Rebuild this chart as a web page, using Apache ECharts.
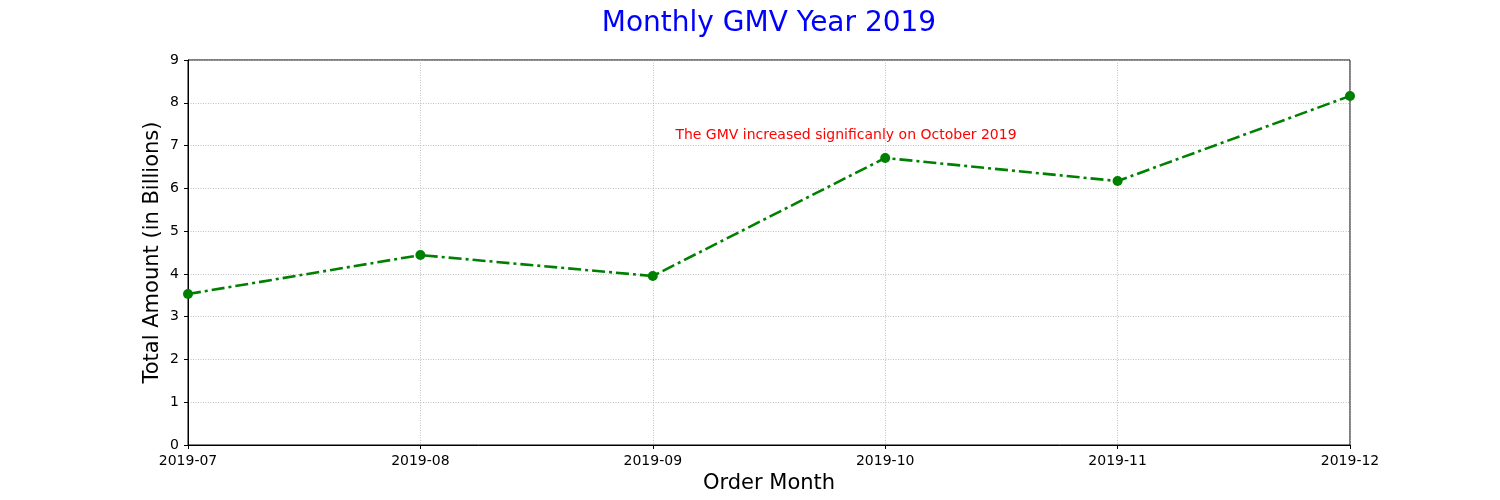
<!DOCTYPE html>
<html>
<head>
<meta charset="utf-8">
<script src="https://cdn.jsdelivr.net/npm/echarts@6/dist/echarts.min.js"></script>
<style>html,body{margin:0;padding:0;background:#fff}#c{width:1500px;height:500px}</style>
</head>
<body>
<div id="c"></div>
<script>
const months = ['2019-07','2019-08','2019-09','2019-10','2019-11','2019-12'];
const gmv = [3.53, 4.44, 3.95, 6.71, 6.17, 8.16];
const yTicks = [0,1,2,3,4,5,6,7,8,9];
const noteText = 'The GMV increased significanly on October 2019';
const notePos = [2.095, 7.25];

const font = 'DejaVu Sans';
const chart = echarts.init(document.getElementById('c'), null, {renderer:'canvas'});
chart.setOption({
  animation: false,
  backgroundColor: '#fff',
  textStyle: {fontFamily: font},
  title: {
    text: 'Monthly GMV Year 2019',
    left: 764, top: 5, textAlign: 'center',
    textStyle: {color: '#0000ff', fontSize: 28, fontWeight: 'normal', fontFamily: font}
  },
  grid: {left: 188, right: 150, top: 60, bottom: 55, show: true, borderColor: '#000', borderWidth: 1, backgroundColor: 'transparent'},
  xAxis: {
    type: 'value', min: 0, max: months.length - 1, interval: 1,
    name: 'Order Month', nameLocation: 'middle', nameGap: 28,
    nameTextStyle: {fontSize: 21, color: '#000', fontFamily: font},
    axisLine: {show: true, lineStyle: {color: '#000', width: 1}},
    axisTick: {show: true, length: 4, lineStyle: {color: '#000'}},
    axisLabel: {color: '#000', fontSize: 14, margin: 9, fontFamily: font,
      formatter: v => months[Math.round(v)] || ''},
    splitLine: {show: true, lineStyle: {color: '#b0b0b0', type: [1, 1.5], width: 0.8}}
  },
  yAxis: {
    type: 'value', min: yTicks[0], max: yTicks[yTicks.length-1], interval: 1,
    name: 'Total Amount (in Billions)', nameLocation: 'middle', nameGap: 25,
    nameMoveOverlap: false,
    nameTextStyle: {fontSize: 21, color: '#000', fontFamily: font},
    axisLine: {show: true, lineStyle: {color: '#000', width: 1}},
    axisTick: {show: true, length: 4, lineStyle: {color: '#000'}},
    axisLabel: {color: '#000', fontSize: 14, margin: 9, fontFamily: font},
    splitLine: {show: true, lineStyle: {color: '#b0b0b0', type: [1, 1.5], width: 0.8}}
  },
  series: [{
    type: 'line',
    data: gmv.map((v, i) => [i, v]),
    symbol: 'circle', symbolSize: 10,
    itemStyle: {color: '#008000'},
    lineStyle: {color: '#008000', width: 2.6, type: [13, 4, 3, 4]},
    clip: false,
    markPoint: {
      symbol: 'circle', symbolSize: 1,
      itemStyle: {color: 'rgba(0,0,0,0)'},
      label: {show: true, position: 'right', distance: 0, color: '#ff0000', fontSize: 14, fontFamily: font,
        formatter: () => noteText},
      data: [{coord: notePos, value: 0}]
    }
  }]
});
</script>
</body>
</html>
